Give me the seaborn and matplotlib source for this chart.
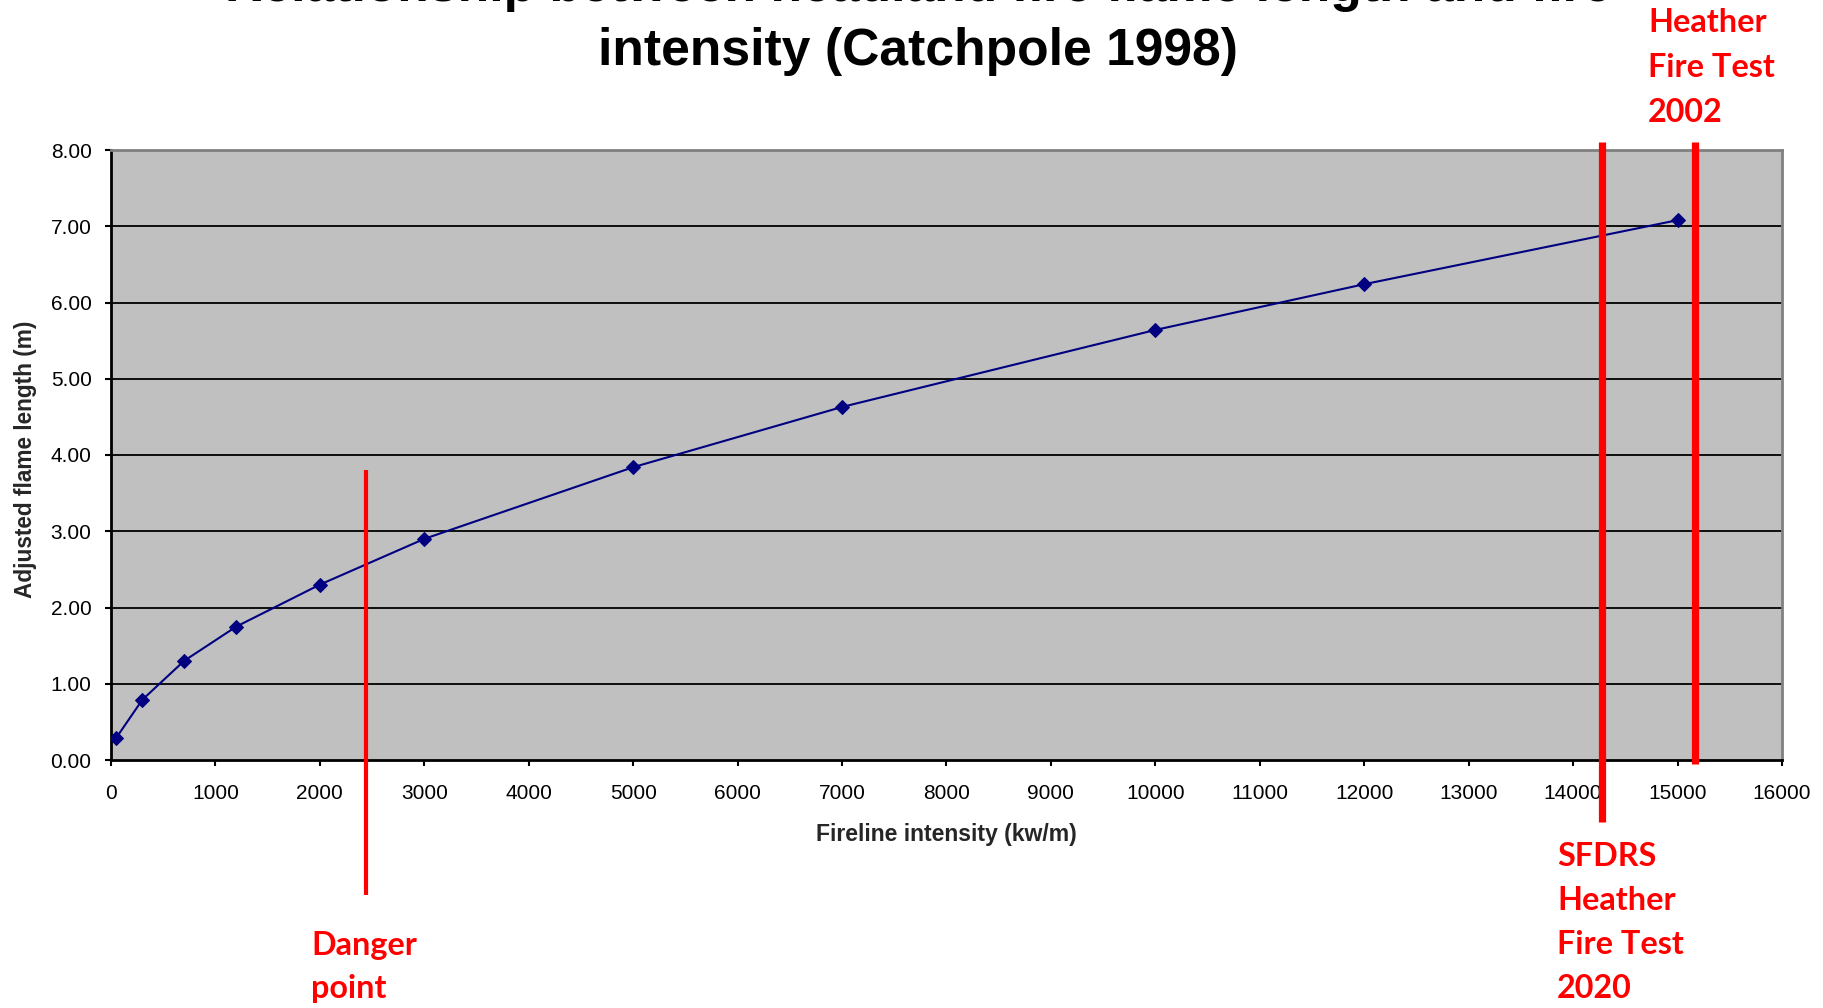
import matplotlib
matplotlib.use("Agg")
import matplotlib.pyplot as plt
import pandas as pd
import seaborn as sns

# Catchpole (1998) flame length vs fireline intensity
intensity = [50, 300, 700, 1200, 2000, 3000, 5000, 7000, 10000, 12000, 15000]
flame_length = [0.29, 0.79, 1.30, 1.75, 2.30, 2.90, 3.84, 4.63, 5.64, 6.24, 7.08]

x_ticks = list(range(0, 16001, 1000))
y_ticks = [0, 1, 2, 3, 4, 5, 6, 7, 8]

title_lines = ["Relationship between headland fire flame length and fire",
               "intensity (Catchpole 1998)"]
x_label = "Fireline intensity (kw/m)"
y_label = "Adjusted flame length (m)"

# reference intensities marked with red vertical lines
danger_intensity = 2440
sfdrs_intensity = 14280
heather_2002_intensity = 15170

danger_text = ["Danger", "point"]
sfdrs_text = ["SFDRS", "Heather", "Fire Test", "2020"]
heather_2002_text = ["Heather", "Fire Test", "2002"]

sns.set_style("white")
plt.rcParams["font.family"] = ["Liberation Sans", "DejaVu Sans"]

W, H = 1824, 1008
fig = plt.figure(figsize=(W / 100, H / 100), dpi=100)
ax = fig.add_axes([111 / W, 1 - 760 / H, (1782 - 111) / W, (760 - 150) / H])


def fpos(x, y):
    return x / W, 1 - y / H


df = pd.DataFrame({"intensity": intensity, "flame": flame_length})
sns.lineplot(data=df, x="intensity", y="flame", ax=ax, color="#000080",
             linewidth=1.5, marker="D", markersize=7.4,
             markeredgecolor="#000080", markerfacecolor="#000080", zorder=5)

ax.set_facecolor("#C0C0C0")
ax.set_xlim(0, 16000)
ax.set_ylim(0, 8)
ax.set_xticks(x_ticks)
ax.set_yticks(y_ticks)
ax.set_xticklabels([str(t) for t in x_ticks])
ax.set_yticklabels([f"{t:.2f}" for t in y_ticks])
ax.tick_params(axis="both", which="major", direction="out", length=4,
               width=1.5, color="black", labelsize=15, labelcolor="black")
ax.tick_params(axis="x", pad=13)
ax.tick_params(axis="y", pad=10)
ax.xaxis.set_ticks_position("bottom")
ax.yaxis.set_ticks_position("left")

ax.grid(False)
for t in y_ticks[1:-1]:
    ax.axhline(t, color="black", linewidth=1.3, zorder=1)

for side in ["left", "bottom"]:
    ax.spines[side].set_color("black")
    ax.spines[side].set_linewidth(2)
for side in ["top", "right"]:
    ax.spines[side].set_color("#808080")
    ax.spines[side].set_linewidth(2)
    ax.spines[side].set_visible(True)

ax.set_xlabel(x_label, fontsize=16.6, fontweight="bold")
ax.set_ylabel(y_label, fontsize=16.3, fontweight="bold")
ax.xaxis.set_label_coords(0.5, -(834 - 760) / 610)
ax.xaxis.label.set_va("center")
ax.yaxis.set_label_coords(-(111 - 26) / 1671, (760 - 459) / 610)
ax.yaxis.label.set_va("center")

# red marker lines
ax.plot([danger_intensity, danger_intensity], [3.8, -1.77], color="#FF0000",
        linewidth=3.0, clip_on=False, zorder=6, solid_capstyle="butt")
ax.plot([sfdrs_intensity, sfdrs_intensity], [8.1, -0.81], color="#FF0000",
        linewidth=5.2, clip_on=False, zorder=6, solid_capstyle="butt")
ax.plot([heather_2002_intensity, heather_2002_intensity], [8.1, -0.05],
        color="#FF0000", linewidth=5.2, clip_on=False, zorder=6,
        solid_capstyle="butt")

# title, two lines centred on the figure
for line, base in zip(title_lines, [1, 65]):
    fig.text(*fpos(918, base), line, ha="center", va="baseline",
             fontsize=37.2, fontweight="bold", color="black")

# red labels
label_font = dict(family=["Lato", "DejaVu Sans"], fontweight="bold",
                  fontsize=23.3, color="#FF0000", ha="left", va="baseline")
for line, base in zip(heather_2002_text, [32, 77, 122]):
    fig.text(*fpos(1648, base), line, **label_font)
for line, base in zip(sfdrs_text, [866, 910, 954, 998]):
    fig.text(*fpos(1557, base), line, **label_font)
for line, base in zip(danger_text, [955, 998]):
    fig.text(*fpos(311, base), line, **label_font)

fig.savefig("out.png", dpi=100)
